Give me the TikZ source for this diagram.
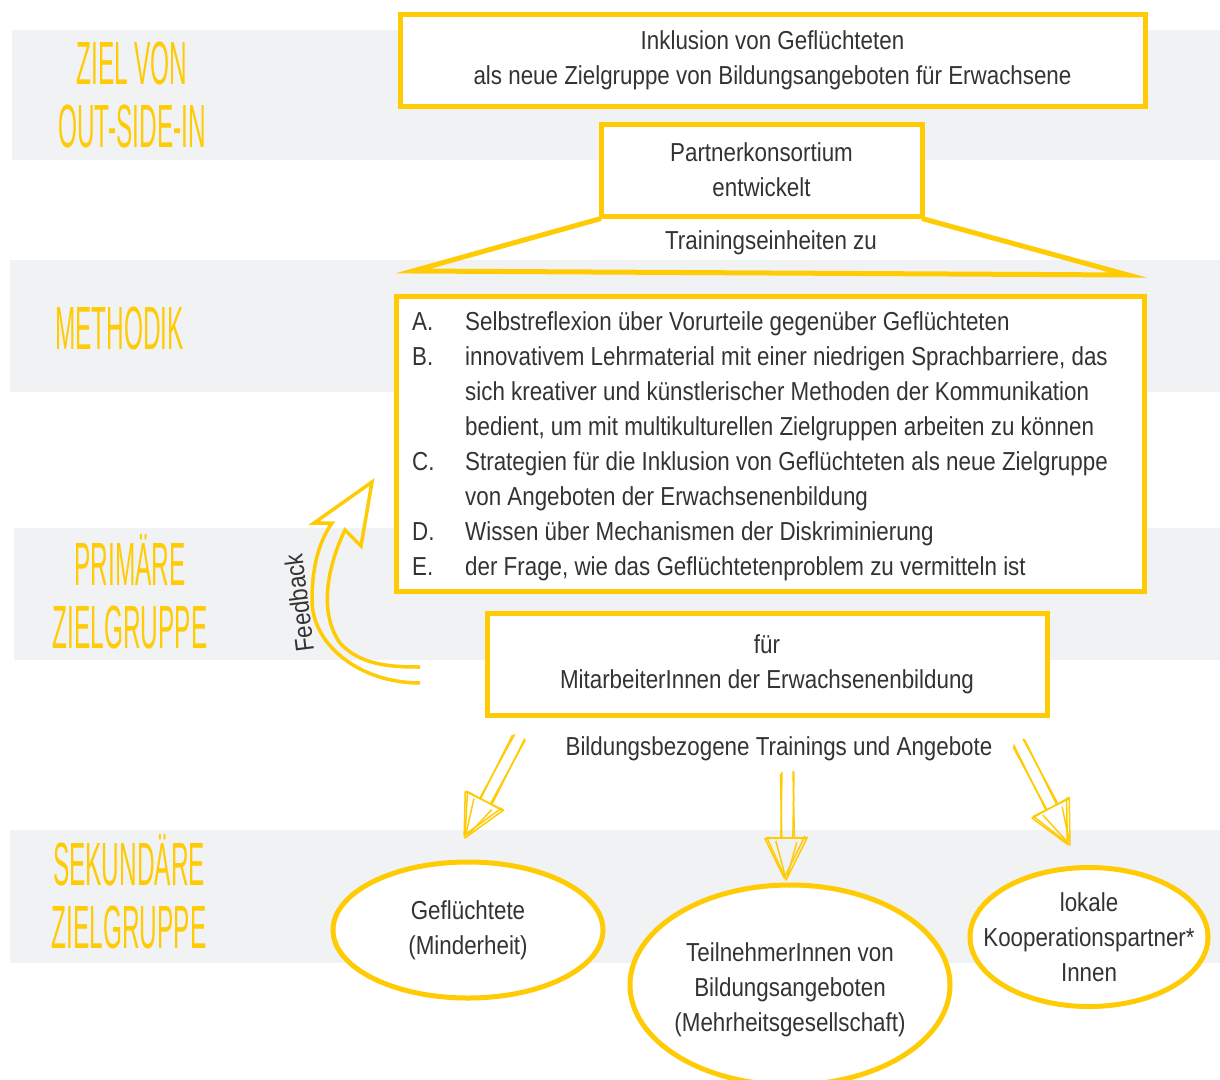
\documentclass[tikz,border=0pt]{standalone}
\usepackage{fontspec}
\setmainfont{Liberation Sans}[FakeStretch=0.86]
\newfontfamily\titelfont{Liberation Sans}[FakeStretch=0.40]
\usetikzlibrary{shapes.geometric, positioning}
\definecolor{gelb}{HTML}{FFCB05}
\definecolor{grau}{HTML}{F1F2F4}
\definecolor{schrift}{HTML}{333333}
\tikzset{
  kasten/.style = {draw=gelb, line width=5pt, fill=white, align=center, text=schrift, font=\fontsize{26}{35}\selectfont},
  oval/.style = {ellipse, draw=gelb, line width=5pt, fill=white},
  txt/.style = {text=schrift, align=center, font=\fontsize{26}{35}\selectfont, inner sep=0pt},
  titel/.style = {text=gelb, align=center, font=\titelfont\fontsize{61}{63}\selectfont, inner sep=0pt},
  band/.style = {fill=grau},
  skizze/.style = {draw=gelb, line width=1.5pt, line join=round},
  feedback/.style = {draw=gelb, line width=3.5pt, line join=miter}
}
% Skizzenpfeil: Start, Winkel, Laenge
\newcommand{\skizzenpfeil}[3]{%
  \begin{scope}[shift={(#1)}, rotate=#2]
    \draw[skizze] (0,6) -- (#3-42,6) (0,-6) -- (#3-42,-6);
    \draw[skizze] (2,7.5) -- (#3-41,5) (-1,-5) -- (#3-43,-7.5);
    \draw[skizze] (#3-42,-20) -- (#3,0) -- (#3-42,20) -- cycle;
    \draw[skizze] (#3-44,-18) -- (#3-2,2) -- (#3-41,22) -- (#3-43,-21);
    \draw[skizze] (#3-38,-10) -- (#3-3,-1) (#3-39,11) -- (#3-4,1);
  \end{scope}}

\begin{document}
\begin{tikzpicture}[x=1pt, y=-1pt]
  \useasboundingbox (0,0) rectangle (1220,1079);

  % Baender
  \fill[band] (12,30) rectangle (1220,160);
  \fill[band] (10,260) rectangle (1220,392);
  \fill[band] (14,528) rectangle (1220,660);
  \fill[band] (10,830) rectangle (1220,963);

  % Titel links
  \node[titel] (ziel) at (132,95) {ZIEL VON\\OUT-SIDE-IN};
  \node[titel, anchor=west] (methodik) at (55,328) {METHODIK};
  \node[titel] (primaer) at (130,592) {PRIMÄRE\\ZIELGRUPPE};
  \node[titel] (sekundaer) at (129,892) {SEKUNDÄRE\\ZIELGRUPPE};

  % Kaesten
  \node[kasten, minimum width=745pt, minimum height=92pt] (inklusion) at (772.5,60)
    {Inklusion von Geflüchteten\\als neue Zielgruppe von Bildungsangeboten für Erwachsene};
  \node[kasten, outer sep=0pt, minimum width=321pt, minimum height=92pt] (konsortium) at (761.5,170)
    {Partnerkonsortium\\entwickelt};

  \coordinate (trapL) at (413,271);
  \coordinate (trapR) at (1128,275);
  \draw[gelb, line width=5pt, line join=miter] ([yshift=-2.5pt]konsortium.south west) -- (trapL) -- (trapR) -- ([yshift=-2.5pt]konsortium.south east);
  \node[txt] (einheiten) at (771,243) {Trainingseinheiten zu};

  \node[kasten, minimum width=748pt, minimum height=295pt] (inhalt) at (770.5,444) {};
  \node[txt, align=left, anchor=west] (liste) at (412,446)
    {\makebox[53pt][l]{A.}Selbstreflexion über Vorurteile gegenüber Geflüchteten\\
     \makebox[53pt][l]{B.}innovativem Lehrmaterial mit einer niedrigen Sprachbarriere, das\\
     \hspace*{53pt}sich kreativer und künstlerischer Methoden der Kommunikation\\
     \hspace*{53pt}bedient, um mit multikulturellen Zielgruppen arbeiten zu können\\
     \makebox[53pt][l]{C.}Strategien für die Inklusion von Geflüchteten als neue Zielgruppe\\
     \hspace*{53pt}von Angeboten der Erwachsenenbildung\\
     \makebox[53pt][l]{D.}Wissen über Mechanismen der Diskriminierung\\
     \makebox[53pt][l]{E.}der Frage, wie das Geflüchtetenproblem zu vermitteln ist};

  \node[kasten, minimum width=560pt, minimum height=102pt] (mitarbeiter) at (767,664)
    {für\\MitarbeiterInnen der Erwachsenenbildung};
  \node[txt] (angebote) at (779,749) {Bildungsbezogene Trainings und Angebote};

  % Feedback-Pfeil
  \draw[feedback] (420,683) .. controls (360,683) and (312,645) .. (312,600)
    .. controls (312,565) and (320,540) .. (332,523) -- (314,523) -- (372,482)
    -- (361,546) -- (345,530) .. controls (328,565) and (318,612) .. (340,643)
    .. controls (360,665) and (390,667) .. (420,667);
  \node[txt, rotate=97] (feedbacktxt) at (299,603) {Feedback};

  % Skizzenpfeile
  \coordinate (pfeilA) at (520,737);
  \coordinate (pfeilB) at (788,772);
  \coordinate (pfeilC) at (1019,742);
  \skizzenpfeil{pfeilA}{-118.6}{115}
  \skizzenpfeil{pfeilB}{-91}{108}
  \skizzenpfeil{pfeilC}{-63.7}{115}

  % Ellipsen
  \node[oval, minimum width=270pt, minimum height=136pt] (fluechtende) at (468,930) {};
  \node[txt] at (fluechtende.center) {Geflüchtete\\(Minderheit)};
  \node[oval, minimum width=320pt, minimum height=200pt] (teilnehmer) at (790,985) {};
  \node[txt] at ([yshift=-5pt]teilnehmer.center) {TeilnehmerInnen von\\Bildungsangeboten\\(Mehrheitsgesellschaft)};
  \node[oval, minimum width=238pt, minimum height=139pt] (partner) at (1089,937) {};
  \node[txt] at (partner.center) {lokale\\Kooperationspartner*\\Innen};
\end{tikzpicture}
\end{document}
